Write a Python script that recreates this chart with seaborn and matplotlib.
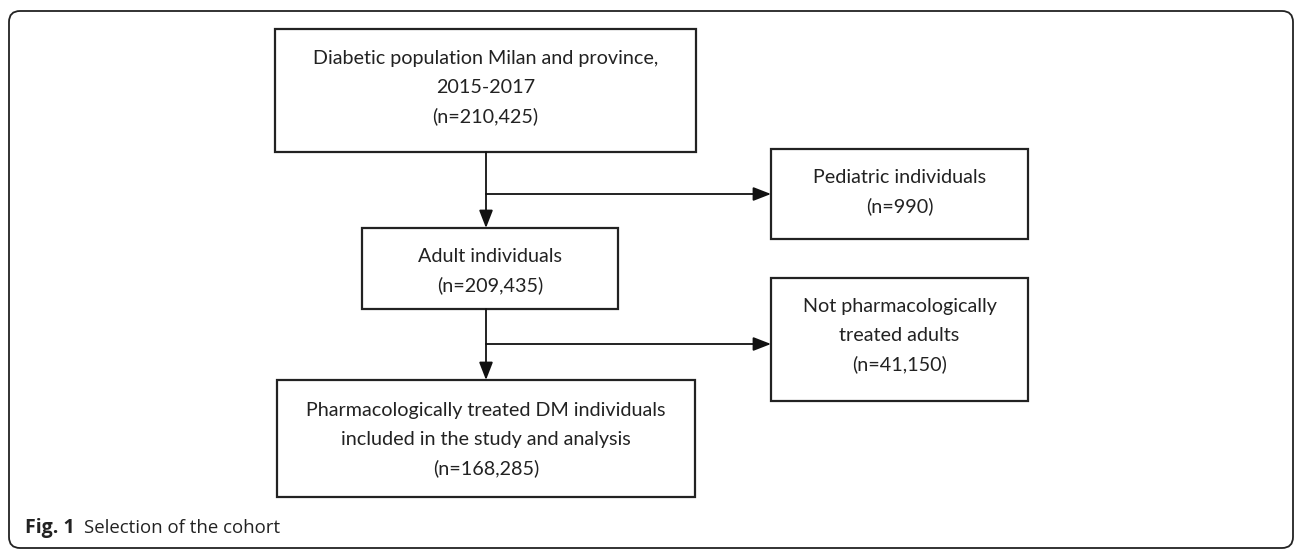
import numpy as np
import pandas as pd
import seaborn as sns
import matplotlib.pyplot as plt
from matplotlib.patches import FancyBboxPatch, Rectangle

# Flowchart content
stages = ["Diabetic population Milan and province,\n2015-2017",
          "Adult individuals",
          "Pharmacologically treated DM individuals\nincluded in the study and analysis"]
stage_n = [210425, 209435, 168285]
excluded = ["Pediatric individuals", "Not pharmacologically\ntreated adults"]
excluded_n = [990, 41150]
caption_bold = "Fig. 1"
caption_text = "Selection of the cohort"

sns.set_theme(style="white")
plt.rcParams['font.family'] = ['Lato', 'DejaVu Sans']

# layout in pixel units (x0, y0, x1, y1)
stage_boxes = [(275, 29, 696, 152), (362, 228, 618, 309), (277, 380, 695, 497)]
excl_boxes = [(771, 149, 1028, 239), (771, 278, 1028, 401)]
spine_x = 486
line_gap = 29

fig = plt.figure(figsize=(12.96, 5.5), dpi=100)
ax = fig.add_axes([0, 0, 1, 1])
ax.set_xlim(0, 1296)
ax.set_ylim(550, 0)
ax.axis("off")

# outer frame
ax.add_patch(FancyBboxPatch((9, 11), 1284, 537, boxstyle="round,pad=0,rounding_size=11",
                            fill=False, lw=1.3, ec="#222222"))


def box(b, label, n, shift=0):
    x0, y0, x1, y1 = b
    ax.add_patch(Rectangle((x0, y0), x1 - x0, y1 - y0, fill=False, lw=1.6, ec="#222222"))
    lines = label.split("\n") + [f"(n={n:,})"]
    cy = (y0 + y1) / 2 + shift
    start = cy - line_gap * (len(lines) - 1) / 2
    for k, ln in enumerate(lines):
        ax.text((x0 + x1) / 2, start + k * line_gap, ln, ha="center", va="center",
                fontsize=14.2, color="#222222")


for b, lab, n, s in zip(stage_boxes, stages, stage_n, [-3, 2, 1]):
    box(b, lab, n, s)
for b, lab, n, s in zip(excl_boxes, excluded, excluded_n, [-2, -4]):
    box(b, lab, n, s)

arrow_kw = dict(arrowstyle="-|>,head_length=0.9,head_width=0.35", color="#111111", lw=1.3,
                shrinkA=0, shrinkB=0)
for i in range(2):
    top = stage_boxes[i][3]
    bottom = stage_boxes[i + 1][1]
    branch_y = [194, 344][i]
    ax.annotate("", xy=(spine_x, bottom), xytext=(spine_x, top), arrowprops=arrow_kw)
    ax.annotate("", xy=(excl_boxes[i][0], branch_y), xytext=(spine_x, branch_y), arrowprops=arrow_kw)

# caption
ax.text(25, 528, caption_bold, ha="left", va="center", fontsize=14, fontweight="bold",
        family=["Open Sans", "DejaVu Sans"], color="#222222")
ax.text(84, 528, caption_text, ha="left", va="center", fontsize=13.4,
        family=["Open Sans", "DejaVu Sans"], color="#222222")

fig.savefig("out.png", dpi=100)
